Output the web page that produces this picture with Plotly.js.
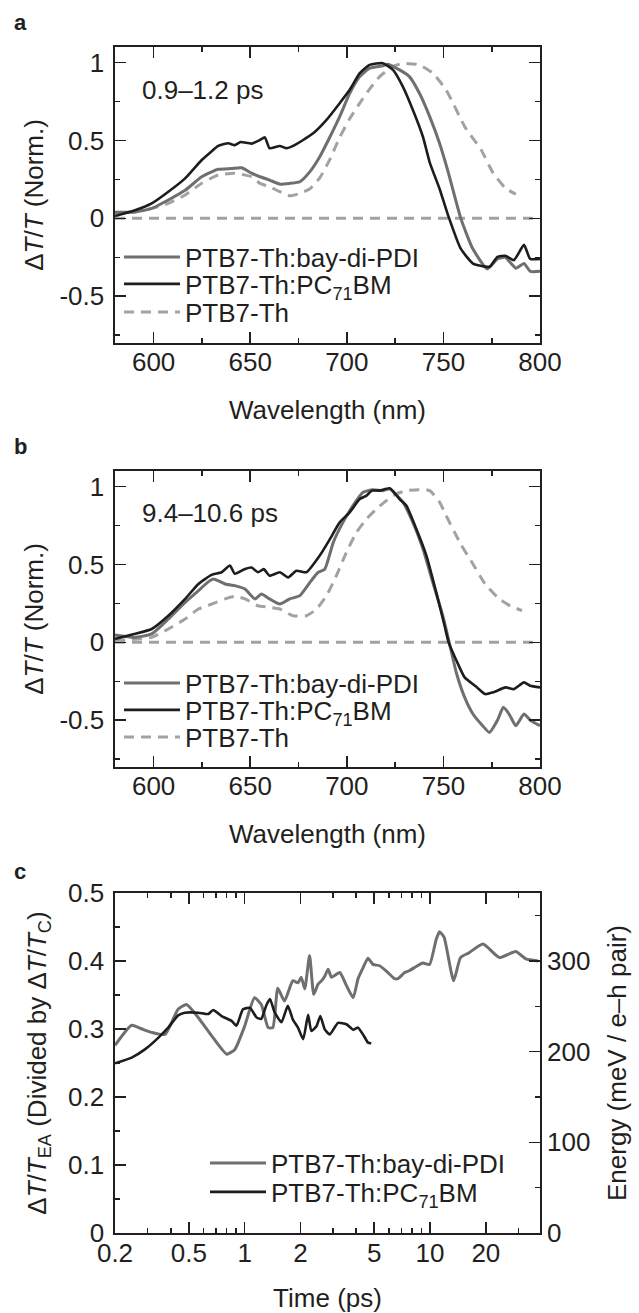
<!DOCTYPE html>
<html><head><meta charset="utf-8">
<script src="https://cdn.plot.ly/plotly-3.0.1.min.js"></script>
<style>body{margin:0;background:#fff}#chart{width:639px;height:1313px}</style>
</head><body><div id="chart"></div>
<script>
// ---------- Panel a (0.9–1.2 ps) ----------
const wlA_pdi = [580,590,599,607.6,616.3,624.9,633.4,640.3,645.5,650.7,655,660,665.3,670.5,675.7,680.9,686,691.3,696.3,701.5,706.7,711.8,718.7,721.3,727.3,732.4,737.6,742.9,748,752.4,759,765,772.7,778,782,787.5,791.7,795,800];
const valA_pdi = [0.04,0.04,0.064,0.118,0.18,0.267,0.315,0.32,0.325,0.29,0.267,0.246,0.22,0.225,0.235,0.3,0.396,0.524,0.653,0.803,0.91,0.964,0.979,0.99,0.953,0.91,0.803,0.653,0.482,0.3,0.0,-0.19,-0.325,-0.26,-0.25,-0.32,-0.29,-0.34,-0.34];
const wlA_pcbm = [580,590,599,607.6,616.3,624.9,630,633.4,638.6,642,645,650.7,655,657.6,660,665.3,668.8,672.2,677.4,682.6,689.5,696.3,701.5,706.7,711.8,718.7,723.9,729,734.2,739.4,742.9,748,752.4,758.9,765.3,771.7,774,778,782,786.5,791.7,794.9,800];
const valA_pcbm = [0.015,0.05,0.096,0.171,0.257,0.375,0.43,0.465,0.482,0.47,0.49,0.48,0.503,0.52,0.45,0.465,0.45,0.465,0.503,0.546,0.632,0.739,0.825,0.932,0.985,0.996,0.953,0.846,0.696,0.524,0.36,0.19,0.02,-0.193,-0.29,-0.31,-0.31,-0.247,-0.24,-0.268,-0.17,-0.26,-0.26];
const wlA_neat = [580,590,599,607.6,616.3,624.9,633.4,642,650.7,655,660,665.3,670.5,675.7,680.9,686,691.3,696.3,701.5,706.7,711.8,717,723.9,729,737.6,744.5,751.4,761,769.5,775.8,782.2,787.5];
const valA_neat = [0.032,0.045,0.064,0.096,0.15,0.225,0.278,0.29,0.267,0.225,0.203,0.171,0.145,0.16,0.19,0.26,0.38,0.52,0.64,0.74,0.83,0.91,0.975,0.995,0.985,0.932,0.825,0.59,0.44,0.29,0.193,0.155];

// ---------- Panel b (9.4–10.6 ps) ----------
const wlB_pdi = [580,590,599,607.6,616.3,623.2,628.4,631,637,642,647.3,652.5,655.8,660,665.3,670.5,675.7,680.9,685.2,688.6,693,698,703.2,708.4,713.5,718.7,722.2,729,734.2,739.4,744.5,749.7,753,756.8,761,765.3,770.3,773.8,778,781,784,787.5,791.7,795,800];
const valB_pdi = [0.047,0.032,0.054,0.15,0.257,0.332,0.39,0.407,0.375,0.364,0.342,0.279,0.31,0.279,0.246,0.279,0.3,0.385,0.45,0.47,0.642,0.77,0.878,0.963,0.98,0.974,0.985,0.9,0.77,0.6,0.385,0.17,0.0,-0.2,-0.353,-0.46,-0.535,-0.578,-0.5,-0.417,-0.46,-0.535,-0.46,-0.5,-0.535];
const wlB_pcbm = [580,590,599,607.6,616.3,623.2,630,635.2,639.5,642,647.3,650.7,654,657,660,665.3,669.6,673.9,679.1,686,691.3,696.3,701.5,706.7,710.2,713,717,722.2,727.3,730.8,736,741.2,746.3,750.6,752.7,756.8,761,767.4,771.6,775.9,782.2,786.5,791.7,794.9,800];
const valB_pcbm = [0.022,0.054,0.086,0.171,0.279,0.375,0.433,0.45,0.493,0.44,0.471,0.48,0.45,0.47,0.428,0.45,0.417,0.46,0.45,0.557,0.664,0.77,0.835,0.92,0.942,0.974,0.974,0.989,0.92,0.878,0.728,0.557,0.321,0.107,0.0,-0.118,-0.225,-0.289,-0.332,-0.32,-0.289,-0.3,-0.257,-0.278,-0.289];
const wlB_neat = [580,590,599,607.6,616.3,623.2,630,637,642,647.3,654,660,665.3,672.2,679.1,684.3,689.5,694.6,699.8,705,710.2,715.3,720.5,725.6,730.8,737.6,742.9,748,751.4,758.9,765.3,771.6,778,784.3,790.7];
const valB_neat = [0.011,0.02,0.032,0.086,0.15,0.214,0.246,0.279,0.295,0.279,0.235,0.225,0.214,0.171,0.171,0.214,0.3,0.428,0.578,0.706,0.792,0.856,0.91,0.953,0.974,0.98,0.974,0.9,0.814,0.632,0.503,0.375,0.289,0.236,0.204];

// ---------- Panel c (kinetics) ----------
const tC_pdi = [0.2,0.246,0.28,0.315,0.372,0.438,0.486,0.562,0.664,0.8,0.886,1.0,1.13,1.23,1.34,1.42,1.51,1.64,1.82,1.94,2.02,2.11,2.24,2.36,2.49,2.6,2.71,2.82,2.94,3.26,3.54,3.85,4.09,4.35,4.63,4.92,5.35,5.93,6.44,6.71,7.29,7.76,8.43,9.15,9.94,10.8,11.25,11.9,13.4,14.6,16.2,19.3,23.7,29,32.9,38.3];
const valC_pdi = [0.276,0.3055,0.3,0.295,0.292,0.329,0.336,0.317,0.29,0.263,0.27,0.304,0.346,0.336,0.302,0.302,0.36,0.341,0.371,0.368,0.376,0.359,0.408,0.351,0.366,0.371,0.378,0.388,0.376,0.383,0.364,0.346,0.374,0.39,0.404,0.395,0.393,0.383,0.374,0.374,0.383,0.386,0.392,0.397,0.395,0.432,0.443,0.435,0.371,0.405,0.412,0.425,0.405,0.414,0.403,0.4];
const tC_pcbm = [0.2,0.246,0.29,0.342,0.387,0.438,0.475,0.562,0.637,0.677,0.751,0.85,0.904,0.98,1.07,1.16,1.23,1.31,1.37,1.45,1.58,1.71,1.82,1.94,2.07,2.2,2.29,2.44,2.56,2.71,2.88,3.19,3.54,3.85,4.09,4.35,4.63,4.82];
const valC_pcbm = [0.2495,0.258,0.27,0.287,0.302,0.32,0.324,0.324,0.322,0.328,0.319,0.312,0.305,0.329,0.331,0.317,0.315,0.335,0.344,0.325,0.31,0.334,0.314,0.302,0.285,0.321,0.297,0.304,0.319,0.299,0.292,0.309,0.307,0.299,0.302,0.292,0.28,0.279];

// tick labels
const wlTicks = [600,650,700,750,800];
const normTicks = [-0.5,0,0.5,1];
const normLabels = ['-0.5','0','0.5','1'];
const timeTicks = [0.2,0.5,1,2,5,10,20];
const timeLabels = ['0.2','0.5','1','2','5','10','20'];
const timeMinor = [0.3,0.4,0.6,0.7,0.8,0.9,3,4,6,7,8,9,30];
const eaTicks = [0,0.1,0.2,0.3,0.4,0.5];
const eaLabels = ['0','0.1','0.2','0.3','0.4','0.5'];
const energyTicks = [0,100,200,300];

const names = ['PTB7-Th:bay-di-PDI','PTB7-Th:PC<sub>71</sub>BM','PTB7-Th'];
const C_PDI = '#6e6f71', C_PCBM = '#1d1d1d', C_NEAT = '#a2a2a2';
const FONT = 'Liberation Sans, Arial, Helvetica, sans-serif';
const INK = '#231f20';
const FS = 26;

// geometry helpers (pixel -> paper)
const W = 639, H = 1313, ML = 115, MR = 99, MT = 47, MB = 80;
const PW = W - ML - MR, PH = H - MT - MB;
const px = v => (v - ML) / PW;
const py = v => (H - MB - v) / PH;

const lineW = {pdi: 3, pcbm: 2.6, neat: 3};
const dashPat = '10px,7px';

function tr(x, y, name, color, width, dash, xa, ya, leg) {
  return {x, y, name, type: 'scatter', mode: 'lines', xaxis: xa, yaxis: ya, legend: leg,
    line: {color, width, dash: dash || 'solid', shape: 'spline', smoothing: 0.5}, hoverinfo: 'skip'};
}

const data = [
  tr(wlA_neat, valA_neat, names[2], C_NEAT, lineW.neat, dashPat, 'x', 'y', 'legend3'),
  tr(wlA_pdi, valA_pdi, names[0], C_PDI, lineW.pdi, null, 'x', 'y', 'legend'),
  tr(wlA_pcbm, valA_pcbm, names[1], C_PCBM, lineW.pcbm, null, 'x', 'y', 'legend2'),
  tr(wlB_neat, valB_neat, names[2], C_NEAT, lineW.neat, dashPat, 'x2', 'y2', 'legend6'),
  tr(wlB_pdi, valB_pdi, names[0], C_PDI, lineW.pdi, null, 'x2', 'y2', 'legend4'),
  tr(wlB_pcbm, valB_pcbm, names[1], C_PCBM, lineW.pcbm, null, 'x2', 'y2', 'legend5'),
  tr(tC_pdi, valC_pdi, names[0], C_PDI, lineW.pdi, null, 'x3', 'y3', 'legend7'),
  tr(tC_pcbm, valC_pcbm, names[1], C_PCBM, lineW.pcbm, null, 'x3', 'y3', 'legend8'),
  {x: [null], y: [null], xaxis: 'x3', yaxis: 'y4', type: 'scatter', mode: 'lines', showlegend: false, hoverinfo: 'skip'}
];

const tickFont = {family: FONT, size: FS, color: INK};
const baseAx = {
  showline: true, linecolor: INK, linewidth: 1.6, ticks: 'inside', ticklen: 11, tickwidth: 1.6,
  tickcolor: INK, showgrid: false, zeroline: false, tickfont: tickFont, automargin: false,
  fixedrange: true
};
function wlAxis(anchor) {
  return Object.assign({}, baseAx, {
    anchor, range: [580, 800], tickmode: 'array', tickvals: wlTicks, mirror: 'ticks',
    ticklabelstandoff: -5,
    minor: {tickmode: 'linear', tick0: 0, dtick: 25, ticks: 'inside', ticklen: 5, tickwidth: 1.6, tickcolor: INK},
    title: {text: 'Wavelength (nm)', font: {family: FONT, size: FS, color: INK}, standoff: 25}
  });
}
function normAxis(anchor, dom) {
  return Object.assign({}, baseAx, {
    anchor, domain: dom, range: [-0.8, 1.1], tickmode: 'array', tickvals: normTicks, ticktext: normLabels,
    mirror: 'ticks', ticklabelstandoff: 4,
    minor: {tickmode: 'linear', tick0: 0, dtick: 0.25, ticks: 'inside', ticklen: 5, tickwidth: 1.6, tickcolor: INK},
    title: {text: 'Δ<i>T</i>/<i>T</i> (Norm.)', font: {family: FONT, size: FS, color: INK}, standoff: 8}
  });
}

function leg(xPx, yPx) {
  return {x: px(xPx), y: py(yPx), xanchor: 'left', yanchor: 'middle', bgcolor: 'rgba(0,0,0,0)',
    borderwidth: 0, itemwidth: 56, font: {family: FONT, size: FS, color: INK}, tracegroupgap: 0,
    itemclick: false, itemdoubleclick: false};
}

function label(text, xPx, yPx, opts) {
  return Object.assign({text, x: px(xPx), y: py(yPx), xref: 'paper', yref: 'paper', showarrow: false,
    xanchor: 'left', yanchor: 'middle', font: {family: FONT, size: FS, color: INK}}, opts || {});
}

const layout = {
  width: W, height: H, margin: {l: ML, r: MR, t: MT, b: MB},
  paper_bgcolor: '#fff', plot_bgcolor: 'rgba(0,0,0,0)', font: {family: FONT, size: FS, color: INK},
  xaxis: wlAxis('y'),
  yaxis: normAxis('x', [py(343), py(47)]),
  xaxis2: wlAxis('y2'),
  yaxis2: normAxis('x2', [py(767), py(471)]),
  xaxis3: Object.assign({}, baseAx, {
    anchor: 'y3', type: 'log', range: [Math.log10(0.2), 1.593], tickmode: 'array', tickvals: timeTicks,
    ticktext: timeLabels, mirror: 'ticks', ticklabelstandoff: -4,
    minor: {tickmode: 'array', tickvals: timeMinor, ticks: 'inside', ticklen: 5, tickwidth: 1.6, tickcolor: INK},
    title: {text: 'Time (ps)', font: {family: FONT, size: FS, color: INK}, standoff: 27}
  }),
  yaxis3: Object.assign({}, baseAx, {
    anchor: 'x3', domain: [0, py(893)], range: [0, 0.5], tickmode: 'array', tickvals: eaTicks, ticktext: eaLabels,
    mirror: true, ticklabelstandoff: 4,
    minor: {tickmode: 'linear', tick0: 0, dtick: 0.05, ticks: 'inside', ticklen: 5, tickwidth: 1.6, tickcolor: INK},
    title: {text: 'Δ<i>T</i>/<i>T</i><sub>EA</sub> (Divided by Δ<i>T</i>/<i>T</i><sub>C</sub>)', font: {family: FONT, size: FS, color: INK}, standoff: 14}
  }),
  yaxis4: Object.assign({}, baseAx, {
    anchor: 'x3', overlaying: 'y3', side: 'right', range: [0, 375], tickmode: 'array', tickvals: energyTicks,
    showline: false, ticklabelstandoff: 6,
    minor: {tickmode: 'linear', tick0: 0, dtick: 50, ticks: 'inside', ticklen: 5, tickwidth: 1.6, tickcolor: INK},
    title: {text: 'Energy (meV / e–h pair)', font: {family: FONT, size: FS, color: INK}, standoff: 18}
  }),
  shapes: [
    {type: 'line', layer: 'below', xref: 'x domain', yref: 'y', x0: 0, x1: 1, y0: 0, y1: 0, line: {color: C_NEAT, width: 3, dash: dashPat}},
    {type: 'line', layer: 'below', xref: 'x2 domain', yref: 'y2', x0: 0, x1: 1, y0: 0, y1: 0, line: {color: C_NEAT, width: 3, dash: dashPat}}
  ],
  legend: leg(119, 257), legend2: leg(119, 284), legend3: leg(119, 312),
  legend4: leg(119, 683), legend5: leg(119, 710), legend6: leg(119, 737),
  legend7: leg(205, 1163), legend8: leg(205, 1192),
  annotations: [
    label('<b>a</b>', 20, 22, {xanchor: 'center', font: {family: FONT, size: 22, color: INK}}),
    label('<b>b</b>', 20, 446, {xanchor: 'center', font: {family: FONT, size: 22, color: INK}}),
    label('<b>c</b>', 20, 871, {xanchor: 'center', font: {family: FONT, size: 22, color: INK}}),
    label('0.9–1.2 ps', 140, 90),
    label('9.4–10.6 ps', 140, 513)
  ],
  showlegend: true
};

Plotly.newPlot('chart', data, layout, {staticPlot: true, displayModeBar: false});
</script>
</body></html>
